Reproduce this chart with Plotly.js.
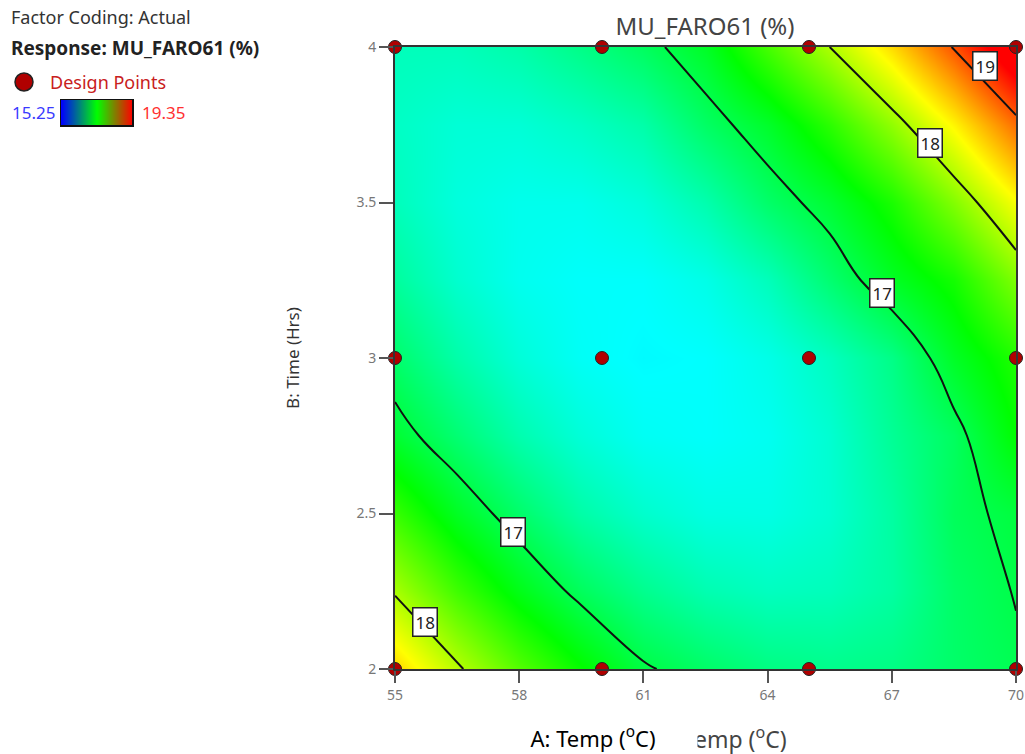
<!DOCTYPE html>
<html>
<head>
<meta charset="utf-8">
<script src="https://cdn.plot.ly/plotly-3.0.1.min.js"></script>
<style>html,body{margin:0;padding:0;background:#fff;}#chart{width:1025px;height:754px;}</style>
</head>
<body>
<div id="chart"></div>
<script>
// Factor A: Temp (°C), Factor B: Time (Hrs)
const tempA = [55, 56.5, 58, 59.5, 61, 62.5, 64, 65.5, 67, 68.5, 70];
const timeB = [2, 2.25, 2.5, 2.75, 3, 3.25, 3.5, 3.75, 4];
// MU_FARO61 (%) response surface, rows = Time, columns = Temp
const response = [
  [18.50, 18.04, 17.64, 17.32, 17.03, 16.89, 16.78, 16.74, 16.77, 16.88, 16.97],
  [17.97, 17.55, 17.21, 16.93, 16.73, 16.59, 16.53, 16.55, 16.65, 16.89, 17.01],
  [17.52, 17.16, 16.88, 16.63, 16.48, 16.39, 16.38, 16.46, 16.65, 16.94, 17.05],
  [17.10, 16.84, 16.60, 16.43, 16.32, 16.29, 16.33, 16.46, 16.70, 16.92, 17.30],
  [16.87, 16.62, 16.43, 16.31, 16.26, 16.28, 16.37, 16.53, 16.76, 17.15, 17.43],
  [16.67, 16.47, 16.34, 16.29, 16.29, 16.37, 16.55, 16.85, 17.15, 17.38, 17.81],
  [16.55, 16.41, 16.35, 16.35, 16.42, 16.60, 16.88, 17.10, 17.40, 17.82, 18.30],
  [16.51, 16.44, 16.44, 16.51, 16.62, 16.90, 17.13, 17.47, 17.88, 18.36, 18.91],
  [16.55, 16.55, 16.62, 16.76, 16.92, 17.15, 17.58, 18.00, 18.47, 19.02, 19.64]
];
const responseMin = 15.25;
const responseMax = 19.35;
const contourLevels = [17, 18, 19];

// Design points
const designA = [55, 60, 65, 70, 55, 60, 65, 70, 55, 60, 65, 70];
const designB = [4, 4, 4, 4, 3, 3, 3, 3, 2, 2, 2, 2];

// Contour labels
const labelText = ['17', '18', '17', '18', '19'];
const labelA = [57.85, 55.72, 66.76, 67.92, 69.25];
const labelB = [2.44, 2.15, 3.21, 3.69, 3.94];

// Tick labels
const xTicks = [55, 58, 61, 64, 67, 70];
const yTicks = [2, 2.5, 3, 3.5, 4];
const yTickText = ['2', '2.5', '3', '3.5', '4'];

const W = 1025, H = 754;
const px = v => v / W;
const py = v => 1 - v / H;

const mainScale = [[0, '#0000ff'], [0.25, '#00ffff'], [0.5, '#00ff00'], [0.75, '#ffff00'], [1, '#ff0000']];
const legendScale = [[0, '#0000ff'], [0.5, '#00ff00'], [1, '#ff0000']];
const FONT = 'Noto Sans, Open Sans, sans-serif';

const traces = [
  {
    type: 'contour', x: tempA, y: timeB, z: response,
    zmin: responseMin, zmax: responseMax, zauto: false,
    colorscale: mainScale, showscale: false,
    contours: { start: contourLevels[0], end: contourLevels[contourLevels.length - 1], size: 1, coloring: 'heatmap', showlabels: false },
    line: { color: '#111', width: 2, smoothing: 1.3 },
    hoverinfo: 'skip'
  },
  {
    type: 'scatter', mode: 'markers', x: designA, y: designB,
    marker: { size: 13, color: '#b00000', line: { color: '#222', width: 1 } },
    cliponaxis: false, hoverinfo: 'skip', showlegend: false
  },
  {
    type: 'heatmap', x: [0, 1], y: [0], z: [[responseMin, responseMax]],
    zmin: responseMin, zmax: responseMax, zsmooth: 'best',
    colorscale: legendScale, showscale: false, xaxis: 'x2', yaxis: 'y2', hoverinfo: 'skip'
  }
];

const annotations = [];
for (let i = 0; i < labelText.length; i++) {
  annotations.push({
    x: labelA[i], y: labelB[i], xref: 'x', yref: 'y', text: labelText[i], showarrow: false,
    font: { family: FONT, size: 17, color: '#222' }, bgcolor: '#ffffff', bordercolor: '#222', borderwidth: 1.5, borderpad: 2
  });
}
annotations.push(
  { x: px(9), y: py(17), xref: 'paper', yref: 'paper', xanchor: 'left', yanchor: 'middle', showarrow: false,
    text: 'Factor Coding: Actual', font: { family: FONT, size: 18, color: '#333' } },
  { x: px(9), y: py(48), xref: 'paper', yref: 'paper', xanchor: 'left', yanchor: 'middle', showarrow: false,
    text: '<b>Response: MU_FARO61 (%)</b>', font: { family: FONT, size: 19, color: '#222' } },
  { x: px(48), y: py(82), xref: 'paper', yref: 'paper', xanchor: 'left', yanchor: 'middle', showarrow: false,
    text: 'Design Points', font: { family: FONT, size: 18, color: '#c82020' } },
  { x: px(57), y: py(112), xref: 'paper', yref: 'paper', xanchor: 'right', yanchor: 'middle', showarrow: false,
    text: '15.25', font: { family: FONT, size: 17, color: '#3a3aff' } },
  { x: px(140), y: py(112), xref: 'paper', yref: 'paper', xanchor: 'left', yanchor: 'middle', showarrow: false,
    text: '19.35', font: { family: FONT, size: 17, color: '#ff3030' } },
  // underlying grey axis title (partly hidden)
  { x: px(721), y: py(738), xref: 'paper', yref: 'paper', xanchor: 'center', yanchor: 'middle', showarrow: false,
    text: 'A: Temp (<sup>o</sup>C)', font: { family: FONT, size: 23, color: '#444' } },
  // overlaid black axis title with white box
  { x: px(593), y: py(737), xref: 'paper', yref: 'paper', xanchor: 'center', yanchor: 'middle', showarrow: false,
    text: 'A: Temp (<sup>o</sup>C)', font: { family: FONT, size: 22, color: '#000' },
    bgcolor: '#ffffff', width: 206, height: 30, borderpad: 1 }
);

const layout = {
  width: W, height: H,
  margin: { l: 0, r: 0, t: 0, b: 0 },
  paper_bgcolor: '#fff', plot_bgcolor: '#fff',
  showlegend: false,
  title: { text: 'MU_FARO61 (%)', x: px(705), y: py(27), xanchor: 'center', yanchor: 'middle',
           font: { family: FONT, size: 24, color: '#444' } },
  xaxis: {
    domain: [px(395), px(1016)], range: [55, 70], tickvals: xTicks, ticktext: xTicks.map(String),
    ticks: 'outside', ticklen: 12, tickwidth: 2, tickcolor: '#555',
    showline: true, mirror: true, linecolor: '#333', linewidth: 2,
    showgrid: false, zeroline: false, tickfont: { family: FONT, size: 14, color: '#777' }, fixedrange: true
  },
  yaxis: {
    domain: [py(669), py(47)], range: [2, 4], tickvals: yTicks, ticktext: yTickText,
    ticks: 'outside', ticklen: 14, tickwidth: 2, tickcolor: '#555',
    showline: true, mirror: true, linecolor: '#333', linewidth: 2,
    showgrid: false, zeroline: false, tickfont: { family: FONT, size: 14, color: '#777' },
    title: { text: 'B: Time (Hrs)', font: { family: FONT, size: 17, color: '#333' }, standoff: 52 }, fixedrange: true
  },
  xaxis2: { domain: [px(61), px(132)], range: [0, 1], anchor: 'y2', showticklabels: false, ticks: '',
            showgrid: false, zeroline: false, showline: true, mirror: true, linecolor: '#111', linewidth: 1.5 },
  yaxis2: { domain: [py(125), py(100)], range: [-0.5, 0.5], anchor: 'x2', showticklabels: false, ticks: '',
            showgrid: false, zeroline: false, showline: true, mirror: true, linecolor: '#111', linewidth: 1.5 },
  shapes: [
    { type: 'circle', xref: 'paper', yref: 'paper', x0: px(15), x1: px(33), y0: py(91), y1: py(73),
      fillcolor: '#b00000', line: { color: '#222', width: 1.5 } }
  ],
  annotations: annotations
};

Plotly.newPlot('chart', traces, layout, { displayModeBar: false, staticPlot: true });
</script>
</body>
</html>
